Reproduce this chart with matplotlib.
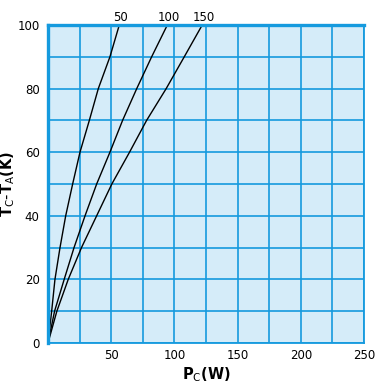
import numpy as np
import matplotlib.pyplot as plt
from matplotlib.ticker import MultipleLocator, FuncFormatter

# ─────────────────────────────────────────
# Data (Tc-Ta vs Pc for three heat sink sizes)
# ─────────────────────────────────────────
dT = [0, 10, 20, 30, 40, 50, 60, 70, 80, 90, 100]
pc_50 = [0, 2.9, 5.5, 9.5, 14, 19.5, 25.3, 32.7, 39.8, 49, 56.4]
pc_100 = [0, 5.2, 12.8, 20.6, 29.3, 38.5, 49, 59, 70.2, 82, 94.4]
pc_150 = [0, 7, 16, 26.5, 38.5, 50.5, 64.5, 78, 93.5, 107.8, 122]
curve_names = ['50', '100', '150']

# ─────────────────────────────────────────
# Styling
# ─────────────────────────────────────────
bg = '#d5ecf9'
grid_blue = '#159ade'

fig = plt.figure(figsize=(3.88, 3.87), dpi=100)
ax = fig.add_axes([0.1237, 0.1137, 0.8145, 0.8217])
ax.set_facecolor(bg)

ax.set_xlim(0, 250)
ax.set_ylim(0, 100)
ax.xaxis.set_major_locator(MultipleLocator(25))
ax.yaxis.set_major_locator(MultipleLocator(10))
ax.xaxis.set_major_formatter(FuncFormatter(lambda v, p: f'{v:.0f}' if v % 50 == 0 and v > 0 else ''))
ax.yaxis.set_major_formatter(FuncFormatter(lambda v, p: f'{v:.0f}' if v % 20 == 0 else ''))
ax.tick_params(length=0, labelsize=8.5, pad=4)
ax.tick_params(axis='y', pad=6)
ax.grid(True, color=grid_blue, linewidth=1.2)
ax.set_axisbelow(True)

for side in ['left', 'right', 'top', 'bottom']:
    ax.spines[side].set_color(grid_blue)
    ax.spines[side].set_linewidth(1.3)
ax.spines['top'].set_linewidth(2.4)
ax.spines['left'].set_linewidth(2.4)

for name, pc in zip(curve_names, [pc_50, pc_100, pc_150]):
    ax.plot(pc, dT, color='black', linewidth=1.0, clip_on=False)
    ax.annotate(name, (pc[-1], dT[-1]), xytext=(1, 1), textcoords='offset points',
                ha='center', va='bottom', fontsize=8.5)

ax.set_xlabel(r'$\mathbf{P}_{\mathrm{C}}\mathbf{(W)}$', fontsize=10.5, labelpad=3)
ax.set_ylabel(r'$\mathbf{T}_{\mathrm{C}}\mathbf{\text{-}T}_{\mathrm{A}}\mathbf{(K)}$', fontsize=10.5, labelpad=0)

plt.savefig('out.png', dpi=100)
